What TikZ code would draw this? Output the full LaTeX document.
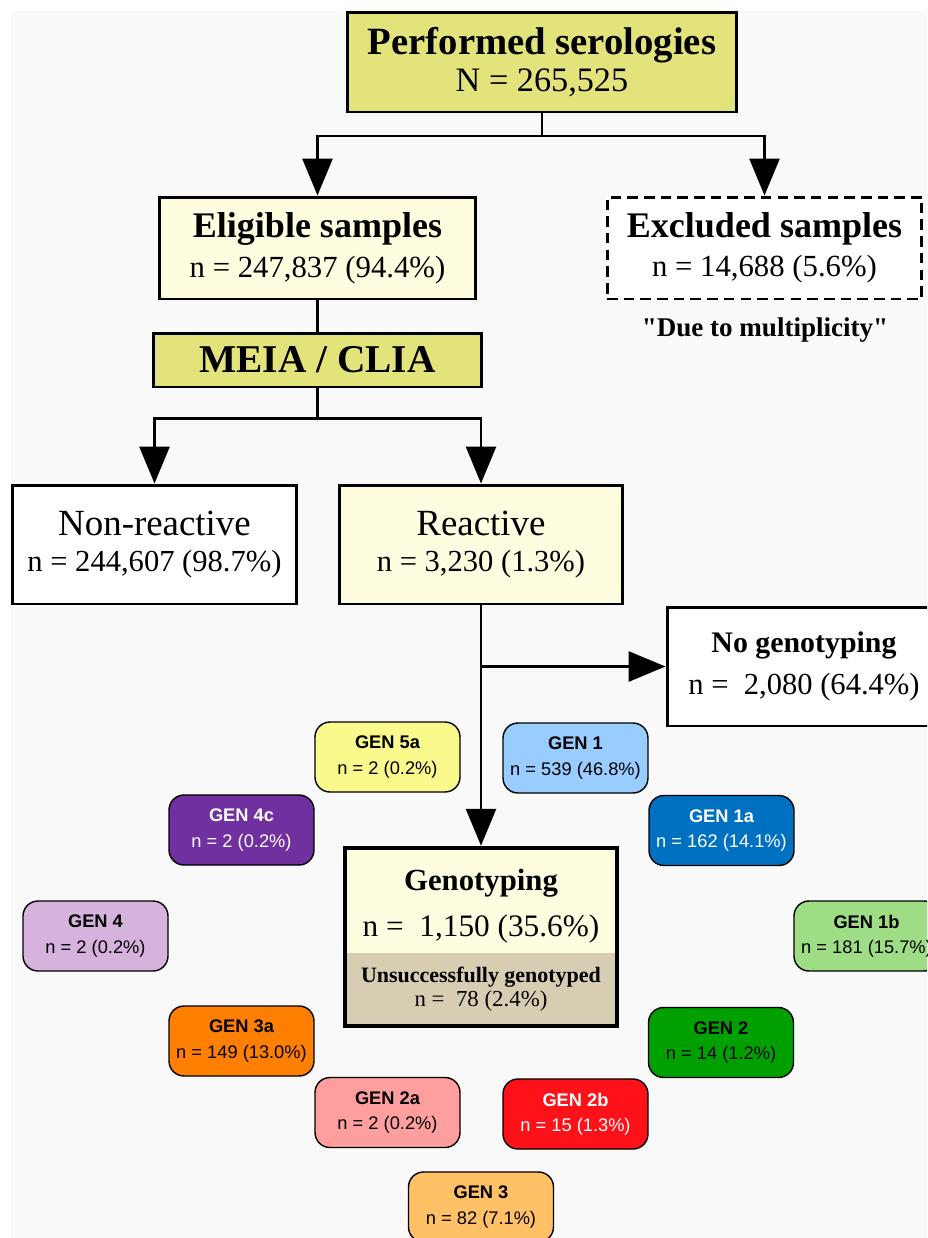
\documentclass[tikz,border=0pt]{standalone}
\usepackage{fontspec}
\setmainfont{Liberation Serif}
\newfontfamily\gensans{Liberation Sans}
\usetikzlibrary{arrows.meta,positioning}

\definecolor{khaki}{HTML}{E3E37B}
\definecolor{cream}{HTML}{FFFDE0}
\definecolor{tanbox}{HTML}{D6CDB2}
\definecolor{pagegray}{HTML}{F9F9F9}
\definecolor{gfivea}{HTML}{F9F98C}
\definecolor{gone}{HTML}{99CCFF}
\definecolor{gfourc}{HTML}{7030A0}
\definecolor{gonea}{HTML}{0070C0}
\definecolor{gfour}{HTML}{D5B3DD}
\definecolor{goneb}{HTML}{9EDD86}
\definecolor{gthreea}{HTML}{FF8000}
\definecolor{gtwo}{HTML}{00A000}
\definecolor{gtwoa}{HTML}{FF9E9E}
\definecolor{gtwob}{HTML}{FF1119}
\definecolor{gthree}{HTML}{FFC066}

\newcommand{\fs}[1]{\fontsize{#1}{#1}\selectfont}

\begin{document}
\begin{tikzpicture}[x=0.02cm,y=-0.02cm,
    box/.style={draw,line width=1.7pt,inner sep=0pt,align=center},
    line/.style={line width=1.7pt},
    flow/.style={line width=1.7pt,-{Triangle[width=17pt,length=21pt]}},
    genbox/.style={draw,line width=0.8pt,rounded corners=0.3cm,inner sep=0pt,
        minimum width=2.9cm,minimum height=1.4cm,align=center,
        font=\gensans\fontsize{10.4}{12.5}\selectfont}]
    \fill[white] (0,0) rectangle (927,1238);
    \fill[pagegray] (11,11) rectangle (927,1238);
    \clip (0,0) rectangle (927,1238);
    % flow boxes
    \node[box,fill=khaki,minimum width=7.8cm,minimum height=2cm] (perf) at (542,62)
        {{\fs{22}\bfseries Performed serologies}\\[2pt]{\fs{19.5}N = 265,525}};
    \node[box,fill=cream,minimum width=6.34cm,minimum height=2.04cm] (elig) at (317.5,248)
        {{\fs{20.5}\bfseries Eligible samples}\\[5pt]{\fs{17.5}n = 247,837 (94.4\%)}};
    \node[box,fill=white,dashed,dash pattern=on 6pt off 3.5pt,minimum width=6.3cm,minimum height=2.04cm] (excl) at (764.5,248)
        {{\fs{20.5}\bfseries Excluded samples}\\[5pt]{\fs{17.5}n = 14,688 (5.6\%)}};
    \node[font=\fs{15.4}\bfseries] (multi) at (765,330) {\textquotedbl Due to multiplicity\textquotedbl};
    \node[box,fill=khaki,minimum width=6.58cm,minimum height=1.08cm,font=\fs{22.4}\bfseries] (meia) at (317.5,360) {MEIA / CLIA};
    \node[box,fill=white,minimum width=5.7cm,minimum height=2.38cm] (nonreact) at (154.5,544.5)
        {{\fs{21}Non-reactive}\\[7pt]{\fs{17.4}n = 244,607 (98.7\%)}};
    \node[box,fill=cream,minimum width=5.68cm,minimum height=2.38cm] (react) at (481,544.5)
        {{\fs{21}Reactive}\\[7pt]{\fs{17.4}n = 3,230 (1.3\%)}};
    \node[box,fill=white,minimum width=5.48cm,minimum height=2.38cm] (nogeno) at (804,666.5)
        {{\fs{17}\bfseries No genotyping}\\[7pt]{\fs{17.4}n =\ \ 2,080 (64.4\%)}};
    \node[box,line width=2.6pt,fill=cream,minimum width=5.44cm,minimum height=3.56cm,
        path picture={\fill[tanbox] (path picture bounding box.south west) rectangle ([yshift=1.46cm]path picture bounding box.south east);}] (geno) at (481,937) {};
    \node[align=center] (genotop) at (481,906)
        {{\fs{17.5}\bfseries Genotyping}\\[9pt]{\fs{17.8}n =\ \ 1,150 (35.6\%)}};
    \node[align=center] (genolow) at (481,989)
        {{\fs{12.5}\bfseries Unsuccessfully genotyped}\\[2pt]{\fs{13}n =\ \ 78 (2.4\%)}};
    % connectors
    \coordinate (forkA) at (542,136);
    \coordinate (forkB) at (317.5,418);
    \coordinate (forkC) at (481,666.5);
    \draw[line] (perf.south) -- (forkA);
    \draw[flow] (forkA) -| (elig.north);
    \draw[flow] (forkA) -| (excl.north);
    \draw[line] (elig.south) -- (meia.north);
    \draw[line] (meia.south) -- (forkB);
    \draw[flow] (forkB) -| (nonreact.north);
    \draw[flow] (forkB) -| (react.north);
    \draw[flow] (react.south) -- (geno.north);
    \draw[flow] (forkC) -- (nogeno.west);
    % genotypes
    \foreach \nm/\lbl/\cnt/\px/\py/\col/\tc in {
        gfivea/5a/2 (0.2\%)/387.5/757/gfivea/black,
        gone/1/539 (46.8\%)/575.5/758/gone/black,
        gfourc/4c/2 (0.2\%)/241.5/830/gfourc/white,
        gonea/1a/162 (14.1\%)/721.5/830.5/gonea/white,
        gfour/4/2 (0.2\%)/95.5/936/gfour/black,
        goneb/1b/181 (15.7\%)/866.5/936/goneb/black,
        gthreea/3a/149 (13.0\%)/241.5/1041/gthreea/black,
        gtwo/2/14 (1.2\%)/721/1042.5/gtwo/black,
        gtwoa/2a/2 (0.2\%)/387.5/1112.5/gtwoa/black,
        gtwob/2b/15 (1.3\%)/575.5/1114/gtwob/white,
        gthree/3/82 (7.1\%)/481/1207/gthree/black}{
        \node[genbox,fill=\col,text=\tc] (\nm) at (\px,\py)
            {{\bfseries GEN \lbl}\\[2pt]n = \cnt};
    }
\end{tikzpicture}
\end{document}
